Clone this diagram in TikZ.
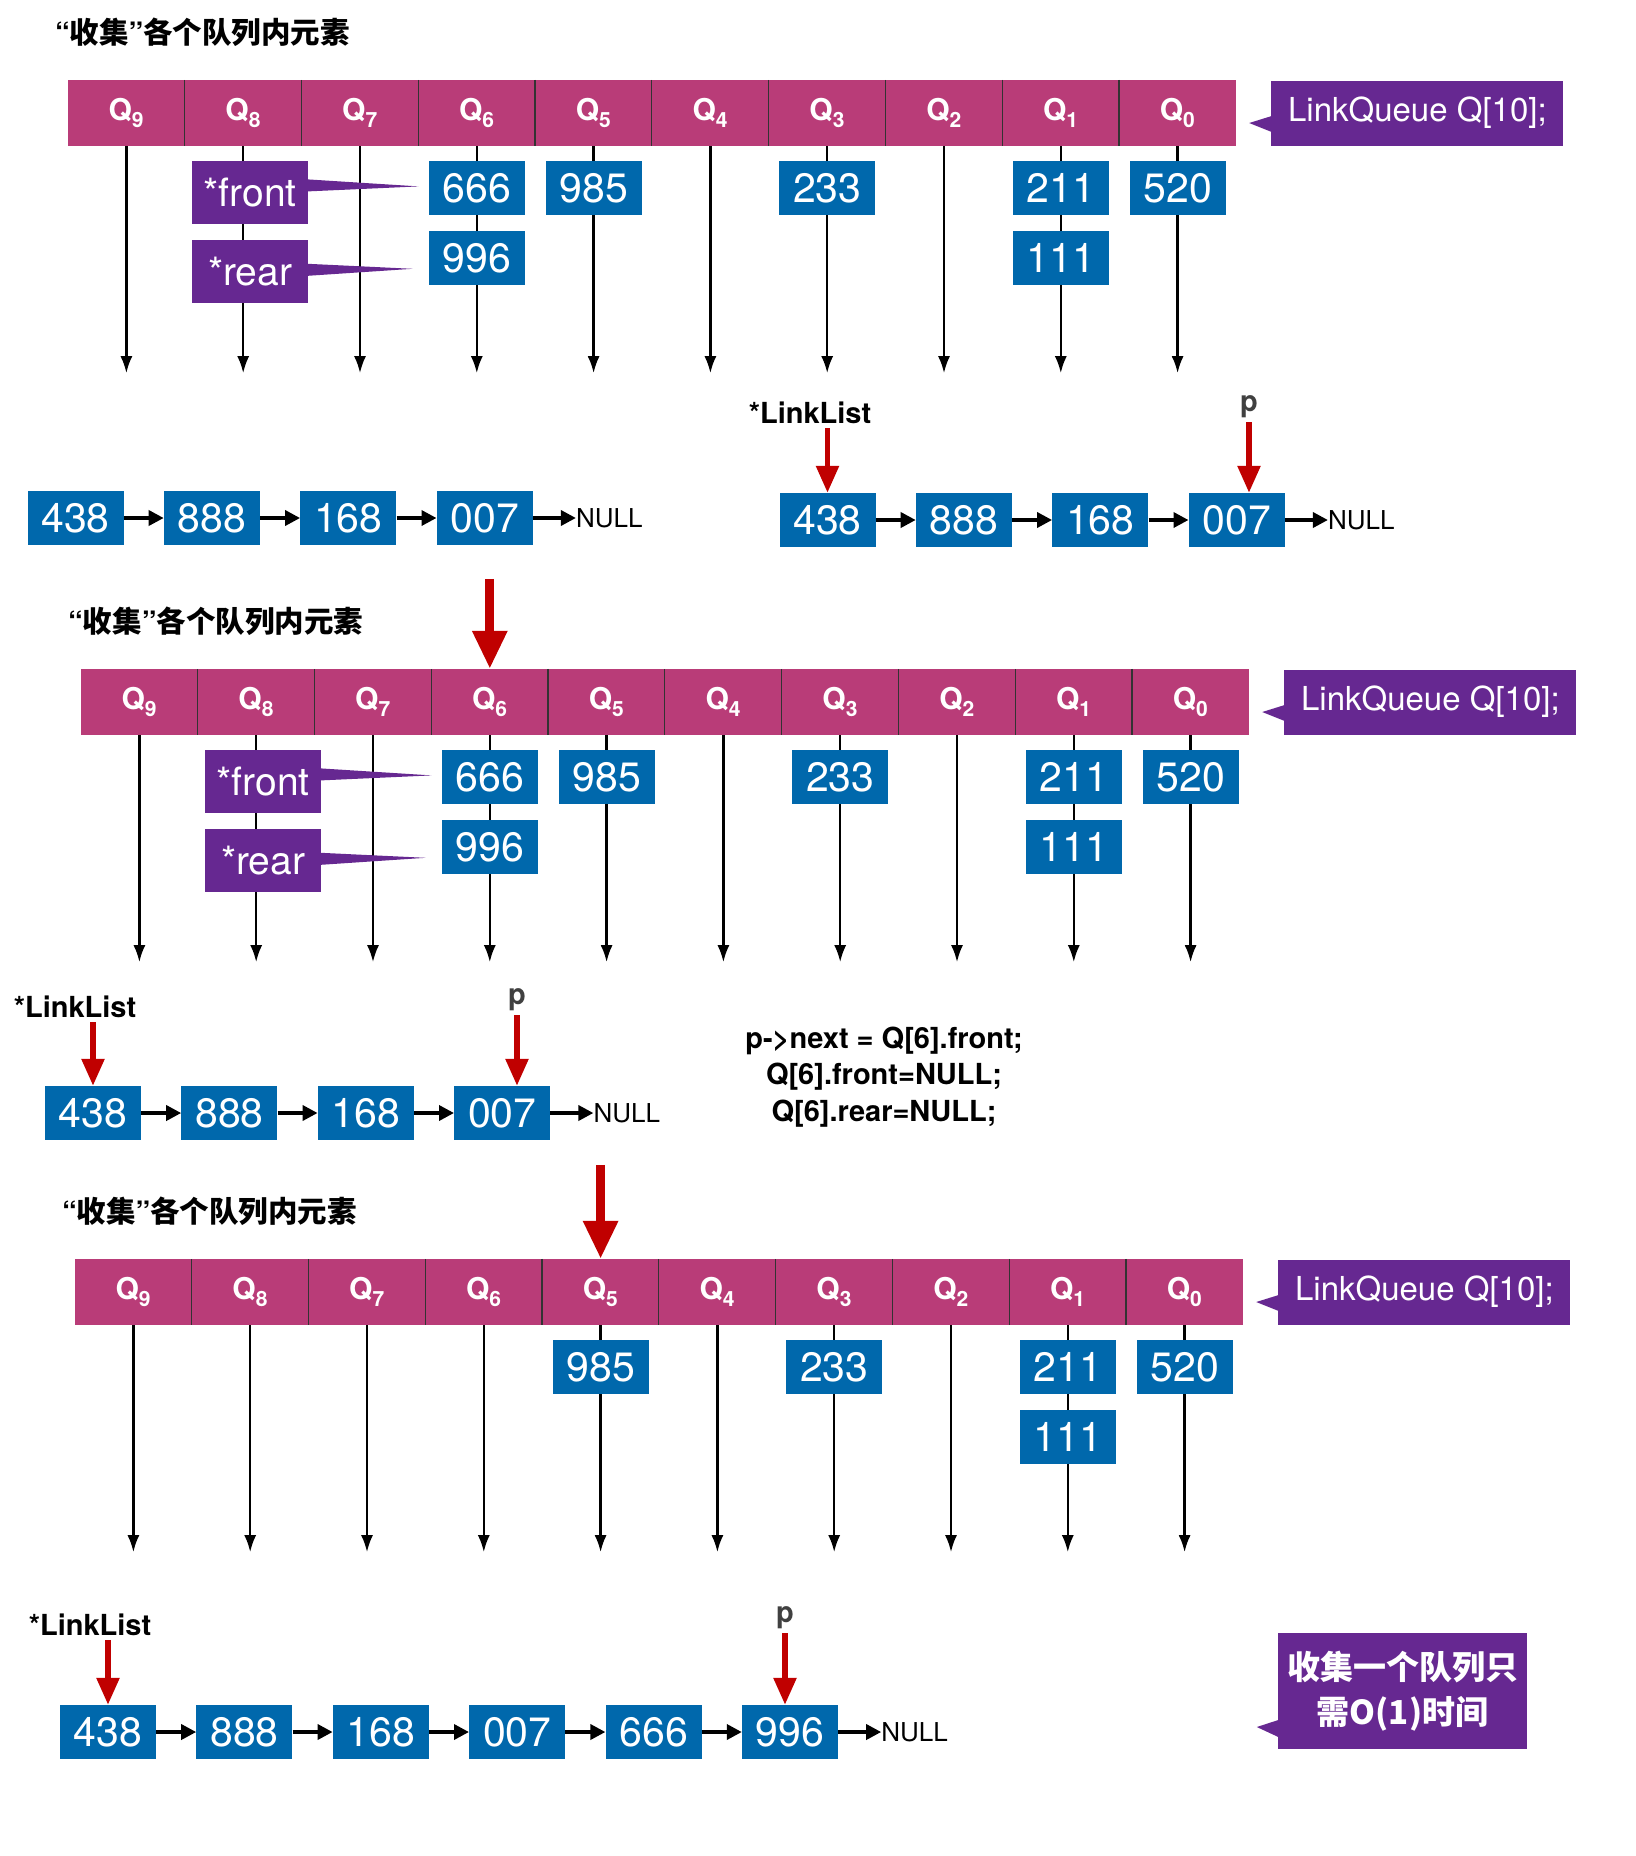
\documentclass[tikz,border=0pt]{standalone}
\usepackage{fontspec}
\setmainfont{TeX Gyre Heros}
\newfontfamily\cjk{Noto Sans CJK SC}
\usetikzlibrary{positioning,arrows.meta}
\definecolor{qpink}{RGB}{185,60,120}
\definecolor{eblue}{RGB}{0,104,172}
\definecolor{ppurple}{RGB}{102,40,145}
\definecolor{pred}{RGB}{192,0,0}
\tikzset{
  qcell/.style={fill=qpink, minimum width=116.8pt, minimum height=66pt, text=white, font=\bfseries\fontsize{30}{30}\selectfont},
  qsep/.style={draw=black!80, line width=1.2pt},
  qarrow/.style={line width=2.4pt, -{Latex[length=17pt,width=12pt]}},
  elem/.style={fill=eblue, minimum width=96pt, minimum height=54pt, text=white, font=\fontsize{41}{41}\selectfont},
  ptrbox/.style={fill=ppurple, minimum width=116pt, minimum height=63pt, text=white, font=\fontsize{39}{39}\selectfont},
  note/.style={fill=ppurple, text=white, minimum width=292pt, minimum height=65pt, font=\fontsize{33}{33}\selectfont},
  ttl/.style={font=\bfseries\fontsize{29.5}{29.5}\selectfont},
  lbl/.style={font=\bfseries\fontsize{29}{29}\selectfont},
  nulltxt/.style={font=\fontsize{26}{26}\selectfont},
  nxt/.style={line width=3.5pt, -{Triangle[length=15pt,width=15pt]}},
  redptr/.style={draw=pred, line width=5.5pt, shorten <=4pt, -{Triangle[length=27pt,width=22pt]}},
  bigred/.style={draw=pred, line width=9pt, -{Triangle[length=38pt,width=33pt]}}
}
\begin{document}
\begin{tikzpicture}[x=1pt,y=-1pt,every node/.append style={inner sep=0pt}]
\useasboundingbox (0,0) rectangle (1636,1856);
% the three queue arrays
\foreach \s/\ox/\oy in {a/68/80,b/81/669,c/75/1259}{
  \foreach \n [count=\i from 0] in {9,8,...,0}{
    \node[qcell] (\s q\n) at (\ox+\i*116.8+58.4,\oy+33) {Q\textsubscript{\n}};
    \coordinate (\s t\n) at ([yshift=-227pt]\s q\n.south);
    \draw[qarrow] (\s q\n) -- (\s t\n);
  }
  \foreach \n in {8,7,...,0}
    \draw[qsep] (\s q\n.north west) -- (\s q\n.south west);
  \node[ttl, anchor=west] (\s ttl) at ([xshift=-13pt,yshift=48pt]\s q9.north west) {“{\cjk 收集}”{\cjk 各个队列内元素}};
  \node[note, right=35pt of \s q0] (\s lq) {LinkQueue Q[10];};
  \fill[ppurple] ([xshift=0.5pt,yshift=-3pt]\s lq.west) -- ([xshift=-22pt,yshift=-10pt]\s lq.west) -- ([xshift=0.5pt,yshift=-19pt]\s lq.west) -- cycle;
  \node[elem, below=15pt of \s q5] (\s 985) {985};
  \node[elem, below=15pt of \s q3] (\s 233) {233};
  \node[elem, below=15pt of \s q1] (\s 211) {211};
  \node[elem, below=15pt of \s 211] (\s 111) {111};
  \node[elem, below=15pt of \s q0] (\s 520) {520};
}
% Q6 still holds 666, 996 in the first two
\foreach \s in {a,b}{
  \node[elem, below=15pt of \s q6] (\s 666) {666};
  \node[elem, below=15pt of \s 666] (\s 996) {996};
  \node[ptrbox, below=15pt of \s q8, xshift=7pt] (\s front) {*front};
  \node[ptrbox, below=15pt of \s front] (\s rear) {*rear};
  \fill[ppurple] ([xshift=-0.5pt,yshift=13.5pt]\s front.east) -- ([xshift=-10pt,yshift=2pt]\s 666.west) -- ([xshift=-0.5pt,yshift=1.5pt]\s front.east) -- cycle;
  \fill[ppurple] ([xshift=-0.5pt,yshift=7.5pt]\s rear.east) -- ([xshift=-16pt,yshift=-11pt]\s 996.west) -- ([xshift=-0.5pt,yshift=-4.5pt]\s rear.east) -- cycle;
}
% list before collecting
\node[elem] (ka438) at (75.5,518) {438};
\node[elem, right=40pt of ka438] (ka888) {888};
\node[elem, right=40pt of ka888] (ka168) {168};
\node[elem, right=40pt of ka168] (ka007) {007};
\node[nulltxt, right=43pt of ka007] (kanull) {NULL};
\foreach \a/\b in {438/888,888/168,168/007}
  \draw[nxt] (ka\a) -- (ka\b);
\draw[nxt] (ka007.east) -- (kanull.west);
% list with pointers
\node[elem] (kb438) at (827.5,520) {438};
\node[elem, right=40pt of kb438] (kb888) {888};
\node[elem, right=40pt of kb888] (kb168) {168};
\node[elem, right=40pt of kb168] (kb007) {007};
\node[nulltxt, right=43pt of kb007] (kbnull) {NULL};
\foreach \a/\b in {438/888,888/168,168/007}
  \draw[nxt] (kb\a) -- (kb\b);
\draw[nxt] (kb007.east) -- (kbnull.west);
\node[lbl] (kbhead) at (810,413) {*LinkList};
\node[lbl, text=darkgray] (kbp) at (1249,407) {p};
\draw[redptr] (kb438.north |- kbhead.south) -- (kb438.north);
\draw[redptr] (kbp.south) -- (kbp.south |- kb007.north);
% arrow into Q6
\coordinate (ga) at ([yshift=90pt]bq6.north);
\draw[bigred] (ga) -- (bq6.north);
% list before linking Q6
\node[elem] (kc438) at (93,1113) {438};
\node[elem, right=40pt of kc438] (kc888) {888};
\node[elem, right=40pt of kc888] (kc168) {168};
\node[elem, right=40pt of kc168] (kc007) {007};
\node[nulltxt, right=43pt of kc007] (kcnull) {NULL};
\foreach \a/\b in {438/888,888/168,168/007}
  \draw[nxt] (kc\a) -- (kc\b);
\draw[nxt] (kc007.east) -- (kcnull.west);
\node[lbl] (kchead) at (75,1007) {*LinkList};
\node[lbl, text=darkgray] (kcp) at (517,1000) {p};
\draw[redptr] (kc438.north |- kchead.south) -- (kc438.north);
\draw[redptr] (kcp.south) -- (kcp.south |- kc007.north);
\node[lbl, align=center, font=\bfseries\fontsize{29}{36.5}\selectfont] (code) at (884,1077) {p->next = Q[6].front;\\Q[6].front=NULL;\\Q[6].rear=NULL;};
% arrow into Q5
\coordinate (gb) at ([yshift=94pt]cq5.north);
\draw[bigred] (gb) -- (cq5.north);
% list after Q6
\node[elem] (kd438) at (108,1732) {438};
\node[elem, right=40pt of kd438] (kd888) {888};
\node[elem, right=40pt of kd888] (kd168) {168};
\node[elem, right=40pt of kd168] (kd007) {007};
\node[elem, right=40pt of kd007] (kd666) {666};
\node[elem, right=40pt of kd666] (kd996) {996};
\node[nulltxt, right=43pt of kd996] (kdnull) {NULL};
\foreach \a/\b in {438/888,888/168,168/007,007/666,666/996}
  \draw[nxt] (kd\a) -- (kd\b);
\draw[nxt] (kd996.east) -- (kdnull.west);
\node[lbl] (kdhead) at (90,1625) {*LinkList};
\node[lbl, text=darkgray] (kdp) at (785,1618) {p};
\draw[redptr] (kd438.north |- kdhead.south) -- (kd438.north);
\draw[redptr] (kdp.south) -- (kdp.south |- kd996.north);
\node[note, minimum width=249pt, minimum height=116pt, align=center, font=\cjk\bfseries\fontsize{33}{45}\selectfont] (cost) at (1402.5,1691) {收集一个队列只\\需O(1)时间};
\fill[ppurple] ([xshift=0.5pt,yshift=-29pt]cost.west) -- ([xshift=-21pt,yshift=-36pt]cost.west) -- ([xshift=0.5pt,yshift=-46pt]cost.west) -- cycle;
\end{tikzpicture}
\end{document}
